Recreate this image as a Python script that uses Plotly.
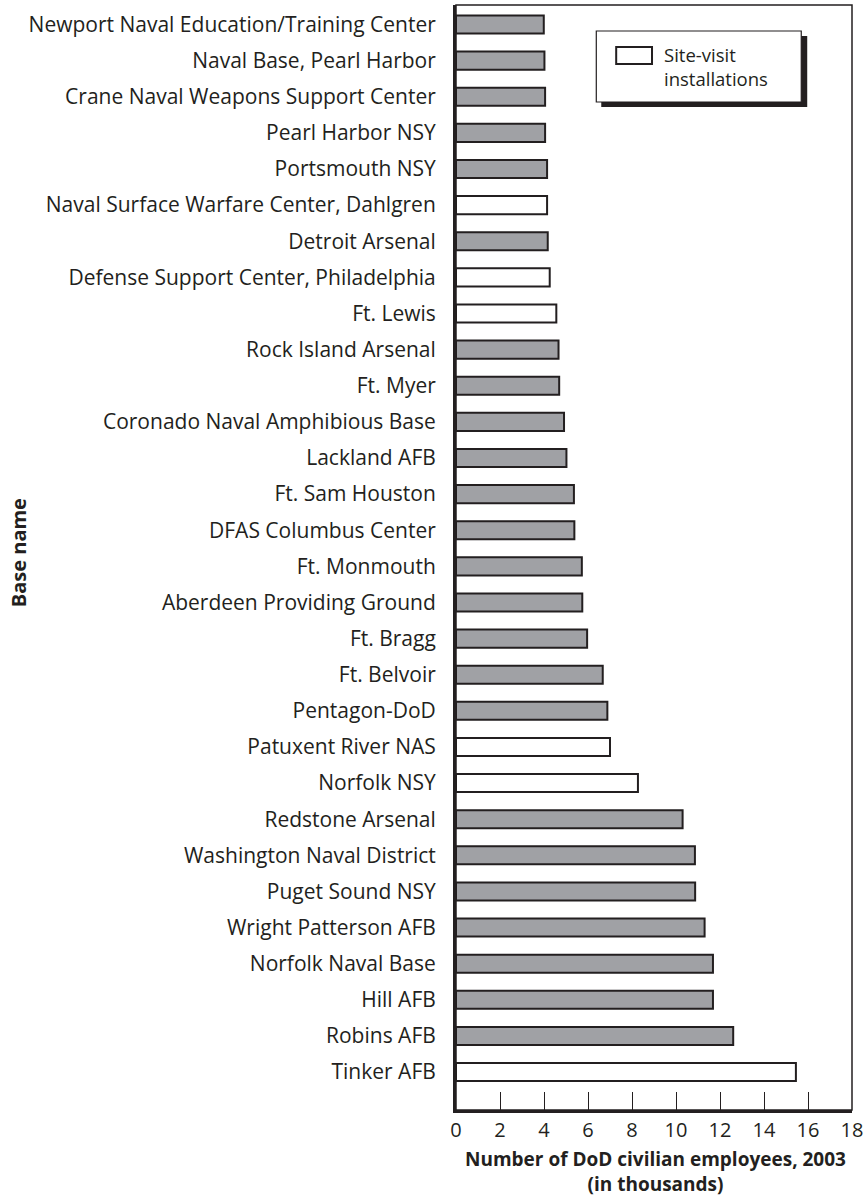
import plotly.graph_objects as go

# Data (bottom to top)
bases = [
    "Tinker AFB", "Robins AFB", "Hill AFB", "Norfolk Naval Base", "Wright Patterson AFB",
    "Puget Sound NSY", "Washington Naval District", "Redstone Arsenal", "Norfolk NSY",
    "Patuxent River NAS", "Pentagon-DoD", "Ft. Belvoir", "Ft. Bragg",
    "Aberdeen Providing Ground", "Ft. Monmouth", "DFAS Columbus Center", "Ft. Sam Houston",
    "Lackland AFB", "Coronado Naval Amphibious Base", "Ft. Myer", "Rock Island Arsenal",
    "Ft. Lewis", "Defense Support Center, Philadelphia", "Detroit Arsenal",
    "Naval Surface Warfare Center, Dahlgren", "Portsmouth NSY", "Pearl Harbor NSY",
    "Crane Naval Weapons Support Center", "Naval Base, Pearl Harbor",
    "Newport Naval Education/Training Center",
]
employees = [
    15.45, 12.60, 11.68, 11.68, 11.30,
    10.87, 10.86, 10.30, 8.27,
    7.00, 6.88, 6.67, 5.96,
    5.74, 5.72, 5.38, 5.36,
    5.02, 4.91, 4.69, 4.66,
    4.56, 4.26, 4.17,
    4.14, 4.14, 4.05,
    4.05, 4.02,
    3.99,
]
site_visit = [
    True, False, False, False, False,
    False, False, False, True,
    True, False, False, False,
    False, False, False, False,
    False, False, False, False,
    True, True, False,
    True, False, False,
    False, False,
    False,
]
x_ticks = [0, 2, 4, 6, 8, 10, 12, 14, 16, 18]

GRAY = "#a0a1a5"
INK = "#231f20"
FONT = "Open Sans"

fig = go.Figure()
for flag, color, name in [(False, GRAY, "Other installations"), (True, "white", "Site-visit installations")]:
    ys = [b for b, s in zip(bases, site_visit) if s == flag]
    xs = [v for v, s in zip(employees, site_visit) if s == flag]
    fig.add_trace(go.Bar(
        x=xs, y=ys, orientation="h", name=name, width=0.5,
        marker=dict(color=color, line=dict(color=INK, width=2)),
        showlegend=False,
    ))

W, H = 868, 1198
L, R, T, B = 456, 14, 5, 88
pw, ph = W - L - R, H - T - B


def px(x):
    return (x - L) / pw


def py(y):
    return (H - B - y) / ph


shapes = [
    # frame
    dict(type="rect", xref="paper", yref="paper", x0=0, x1=1, y0=0, y1=1,
         line=dict(color=INK, width=1.5), layer="below"),
    # legend shadow
    dict(type="rect", xref="paper", yref="paper", x0=px(602), x1=px(809), y0=py(107), y1=py(36),
         fillcolor=INK, line=dict(width=0)),
    # legend box
    dict(type="rect", xref="paper", yref="paper", x0=px(597), x1=px(803), y0=py(102), y1=py(31),
         fillcolor="white", line=dict(color=INK, width=1.2)),
    # legend symbol
    dict(type="rect", xref="paper", yref="paper", x0=px(617), x1=px(653), y0=py(64), y1=py(47),
         fillcolor="white", line=dict(color=INK, width=2)),
]


def label(text, x, y, size, bold=False, xanchor="center", angle=0, align="center"):
    return dict(text=f"<b>{text}</b>" if bold else text, xref="paper", yref="paper",
                x=px(x), y=py(y), xanchor=xanchor, yanchor="middle", textangle=angle,
                align=align, showarrow=False, font=dict(family=FONT, size=size, color=INK))


annotations = [
    label("Site-visit<br>installations", 663, 66, 18.5, xanchor="left", align="left"),
    label("Base name", 16, 553, 20, bold=True, angle=-90),
    dict(text="<b>Number of DoD civilian employees, 2003<br>(in thousands)</b>",
         xref="paper", yref="paper", x=px(657), y=py(1171), xanchor="center", yanchor="middle",
         align="center", showarrow=False, font=dict(family=FONT, size=19, color=INK)),
]

fig.update_layout(
    width=W, height=H,
    margin=dict(l=L, r=R, t=T, b=B, pad=0),
    paper_bgcolor="white", plot_bgcolor="white",
    barmode="overlay",
    showlegend=False,
    shapes=shapes,
    annotations=annotations,
    font=dict(family=FONT, size=20, color=INK),
)
fig.update_xaxes(
    range=[0, 18], tickvals=x_ticks, ticktext=[str(t) for t in x_ticks],
    ticks="inside", ticklen=18, tickwidth=1, tickcolor=INK,
    showline=True, linewidth=3, linecolor=INK, showgrid=False, zeroline=False,
    tickfont=dict(family=FONT, size=20, color=INK),
)
fig.update_yaxes(
    type="category", categoryorder="array", categoryarray=bases,
    range=[-1.05, len(bases) - 1 + 0.54],
    ticks="", showline=True, linewidth=3, linecolor=INK, showgrid=False, zeroline=False,
    ticklabelstandoff=13,
    tickfont=dict(family=FONT, size=21, color=INK),
)

fig.write_html("out.html", config={"displayModeBar": False},
               post_script="document.body.style.margin='0';")
